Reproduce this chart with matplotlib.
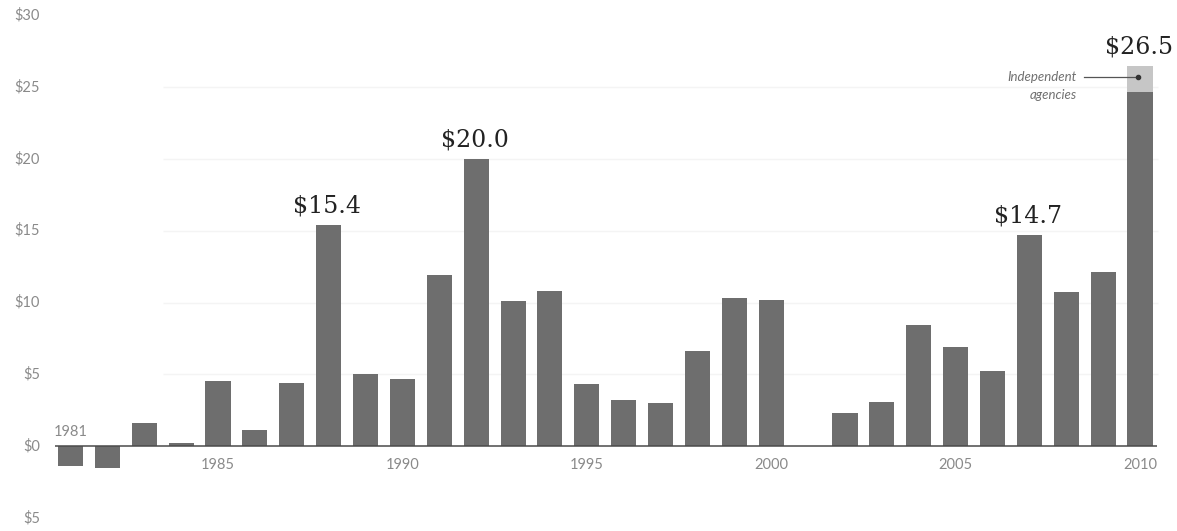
import matplotlib
matplotlib.use("Agg")
import matplotlib.pyplot as plt
import matplotlib.transforms as mtransforms

# ---- data ----
years = list(range(1981, 2011))
values = [-1.4, -1.5, 1.6, 0.2, 4.5, 1.1, 4.4, 15.4, 5.0, 4.7,
          11.9, 20.0, 10.1, 10.8, 4.3, 3.2, 3.0, 6.6, 10.3, 10.2,
          0.0, 2.3, 3.1, 8.4, 6.9, 5.2, 14.7, 10.7, 12.1, 24.7]
independent_2010 = 1.8
highlight_years = [1988, 1992, 2007, 2010]
highlight_labels = ["$15.4", "$20.0", "$14.7", "$26.5"]
ytick_values = [30, 25, 20, 15, 10, 5, 0, -5]
ytick_labels = ["$30", "$25", "$20", "$15", "$10", "$5", "$0", "$5"]
xtick_years = [1985, 1990, 1995, 2000, 2005, 2010]
grid_values = [5, 10, 15, 20, 25]

W, H = 1177, 531
fig = plt.figure(figsize=(W / 100, H / 100), dpi=100)
ax = fig.add_axes([0, 0, 1, 1])

px_per_year = 36.88
px_per_dollar = 14.35
x0_px, y0_px = 70.5, 446.0
ax.set_xlim(1981 - x0_px / px_per_year, 1981 + (W - x0_px) / px_per_year)
ax.set_ylim(-(H - y0_px) / px_per_dollar, y0_px / px_per_dollar)
ax.axis("off")

bar_color = "#6e6e6e"
light_color = "#c6c6c6"
tick_color = "#8a8a8a"
tick_font = dict(fontsize=10.5, color=tick_color, family="Lato", fontweight="normal")

# faint gridlines
for g in grid_values:
    ax.hlines(g, 1983.5, 2010.5, color="#f4f4f4", lw=1.0, zorder=0)

ax.bar(years, values, width=0.68, color=bar_color, zorder=2)
ax.bar([2010], [independent_2010], bottom=[values[-1]], width=0.68,
       color=light_color, zorder=2)

# baseline
ax.hlines(0, 1981 - 15.5 / px_per_year, 2010 + 17 / px_per_year,
          color="#4a4a4a", lw=1.1, zorder=3)

# y labels
trans = mtransforms.blended_transform_factory(fig.transFigure, ax.transData)
for v, lab in zip(ytick_values, ytick_labels):
    ax.text(40 / W, v, lab, transform=trans, ha="right", va="center", **tick_font)

# x labels
for yr in xtick_years:
    ax.text(yr, -1.32, str(yr), ha="center", va="center", **tick_font)
ax.text(1981, 0.98, "1981", ha="center", va="center", **tick_font)

# highlight labels
for yr, lab in zip(highlight_years, highlight_labels):
    idx = years.index(yr)
    top = values[idx] + (independent_2010 if yr == 2010 else 0)
    ax.annotate(lab, (yr, top), xytext=(-1, 9), textcoords="offset points",
                ha="center", va="baseline", fontsize=17, color="#222222",
                family="DejaVu Serif")

# Independent agencies annotation
ymid = values[-1] + independent_2010 * 0.55
ax.plot([2010 - 56 / px_per_year, 2010 - 2 / px_per_year], [ymid, ymid],
        color="#555555", lw=0.9, zorder=4)
ax.plot([2010 - 2 / px_per_year], [ymid], marker="o", ms=3, color="#333333", zorder=5)
ax.text(2010 - 63 / px_per_year, ymid, "Independent", ha="right", va="center",
        fontsize=9.5, style="italic", color="#707070", family="Lato")
ax.text(2010 - 63 / px_per_year, ymid - 18 / px_per_dollar, "agencies", ha="right",
        va="center", fontsize=9.5, style="italic", color="#707070", family="Lato")

fig.savefig("out.png", dpi=100, facecolor="white")
